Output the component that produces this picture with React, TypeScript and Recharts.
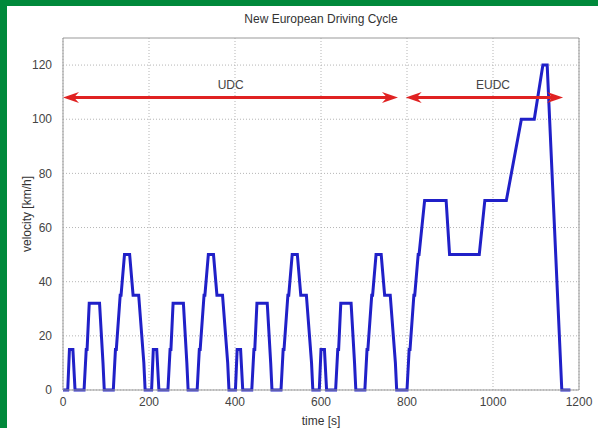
import React from "react"
import {
    LineChart,
    Line,
    XAxis,
    YAxis,
    CartesianGrid,
    ReferenceLine,
    ReferenceDot
} from "recharts"

// NEDC breakpoints: 4x ECE-15 (UDC) then EUDC
const TIME = [
    0, 11, 15, 23, 28, 49, 54, 56, 61, 85, 93, 96, 117, 122, 124, 133, 135, 143, 155, 163, 176, 188, 191,
    195, 206, 210, 218, 223, 244, 249, 251, 256, 280, 288, 291, 312, 317, 319, 328, 330, 338, 350, 358, 371, 383, 386,
    390, 401, 405, 413, 418, 439, 444, 446, 451, 475, 483, 486, 507, 512, 514, 523, 525, 533, 545, 553, 566, 578, 581,
    585, 596, 600, 608, 613, 634, 639, 641, 646, 670, 678, 681, 702, 707, 709, 718, 720, 728, 740, 748, 761, 773, 776,
    780, 800, 805, 807, 816, 818, 826, 828, 841, 891, 899, 968, 981, 1031, 1066, 1096, 1116, 1126, 1160, 1180
]
const VELOCITY = [
    0, 0, 15, 15, 0, 0, 15, 15, 32, 32, 10, 0, 0, 15, 15, 35, 35, 50, 50, 35, 35, 10, 0,
    0, 0, 15, 15, 0, 0, 15, 15, 32, 32, 10, 0, 0, 15, 15, 35, 35, 50, 50, 35, 35, 10, 0,
    0, 0, 15, 15, 0, 0, 15, 15, 32, 32, 10, 0, 0, 15, 15, 35, 35, 50, 50, 35, 35, 10, 0,
    0, 0, 15, 15, 0, 0, 15, 15, 32, 32, 10, 0, 0, 15, 15, 35, 35, 50, 50, 35, 35, 10, 0,
    0, 0, 15, 15, 35, 35, 50, 50, 70, 70, 50, 50, 70, 70, 100, 100, 120, 120, 0, 0
]

const X_TICKS = [0, 200, 400, 600, 800, 1000, 1200]
const Y_TICKS = [0, 20, 40, 60, 80, 100, 120]

// phase arrows
const PHASE_NAMES = ["UDC", "EUDC"]
const PHASE_START = [0, 797]
const PHASE_END = [779, 1163]
const PHASE_LABEL_X = [390, 1000]
const ARROW_Y = 108

const data = TIME.map((t, i) => ({ t, v: VELOCITY[i] }))

const FONT = "'Liberation Sans', Arial, sans-serif"
const RED = "#e02222"

function arrowHead(x: number, y: number, dir: number) {
    // dir: -1 pointing left, 1 pointing right
    const len = 16
    const half = 5.5
    const notch = 11
    const pts = [
        [x, y],
        [x - dir * len, y - half],
        [x - dir * notch, y],
        [x - dir * len, y + half]
    ]
    return <polygon points={pts.map((p) => p.join(",")).join(" ")} fill={RED} />
}

function DoubleArrow(props: any) {
    const { x1, y1, x2 } = props
    return (
        <g>
            <line x1={x1 + 8} y1={y1} x2={x2 - 8} y2={y1} stroke={RED} strokeWidth={3} />
            {arrowHead(x1, y1, -1)}
            {arrowHead(x2, y1, 1)}
        </g>
    )
}

export default function App() {
    return (
        <div
            style={{
                position: "fixed",
                left: 0,
                top: 0,
                width: 598,
                height: 428,
                background: "#fff",
                overflow: "hidden",
                fontFamily: FONT
            }}
        >
            <div style={{ position: "absolute", left: 0, top: 0, width: 598, height: 6, background: "#00893b" }} />
            <div style={{ position: "absolute", left: 0, top: 0, width: 7, height: 428, background: "#00893b" }} />
            <div
                style={{
                    position: "absolute",
                    left: 63,
                    width: 516,
                    top: 12,
                    textAlign: "center",
                    fontSize: 12,
                    color: "#333"
                }}
            >
                New European Driving Cycle
            </div>
            <div style={{ position: "absolute", left: 0, top: 0 }}>
                <LineChart
                    width={598}
                    height={428}
                    data={data}
                    margin={{ top: 38, right: 19, bottom: 0, left: 0 }}
                >
                    <CartesianGrid
                        stroke="#b5b5b5"
                        strokeDasharray="1 2"
                        horizontalValues={Y_TICKS}
                        verticalValues={X_TICKS}
                    />
                    <XAxis
                        dataKey="t"
                        type="number"
                        domain={[0, 1200]}
                        ticks={X_TICKS}
                        height={38}
                        stroke="#999"
                        tickLine={false}
                        tick={{ fill: "#444", fontSize: 12, fontFamily: FONT }}
                        tickMargin={1}
                        interval={0}
                        label={{ value: "time [s]", position: "insideBottom", offset: 3, fill: "#333", fontSize: 12, fontFamily: FONT }}
                    />
                    <YAxis
                        type="number"
                        domain={[0, 130]}
                        ticks={Y_TICKS}
                        width={63}
                        stroke="#999"
                        tickLine={false}
                        tick={{ fill: "#444", fontSize: 12, fontFamily: FONT }}
                        tickMargin={5}
                        interval={0}
                        label={{
                            value: "velocity [km/h]",
                            angle: -90,
                            position: "insideLeft",
                            offset: 27,
                            style: { textAnchor: "middle" },
                            fill: "#333",
                            fontSize: 12,
                            fontFamily: FONT
                        }}
                    />
                    <ReferenceLine y={130} stroke="#999" />
                    <ReferenceLine x={1200} stroke="#999" />
                    <Line
                        dataKey="v"
                        type="linear"
                        stroke="#2020c8"
                        strokeWidth={3}
                        dot={false}
                        isAnimationActive={false}
                    />
                    {PHASE_NAMES.map((name, i) => (
                        <ReferenceLine
                            key={name}
                            segment={[
                                { x: PHASE_START[i], y: ARROW_Y },
                                { x: PHASE_END[i], y: ARROW_Y }
                            ]}
                            shape={DoubleArrow}
                        />
                    ))}
                    {PHASE_NAMES.map((name, i) => (
                        <ReferenceDot
                            key={"l" + name}
                            x={PHASE_LABEL_X[i]}
                            y={ARROW_Y}
                            r={0}
                            shape={(p: any) => (
                                <text
                                    x={p.cx}
                                    y={p.cy - 9}
                                    textAnchor="middle"
                                    fontSize={12}
                                    fontFamily={FONT}
                                    fill="#444"
                                >
                                    {name}
                                </text>
                            )}
                        />
                    ))}
                </LineChart>
            </div>
        </div>
    )
}
